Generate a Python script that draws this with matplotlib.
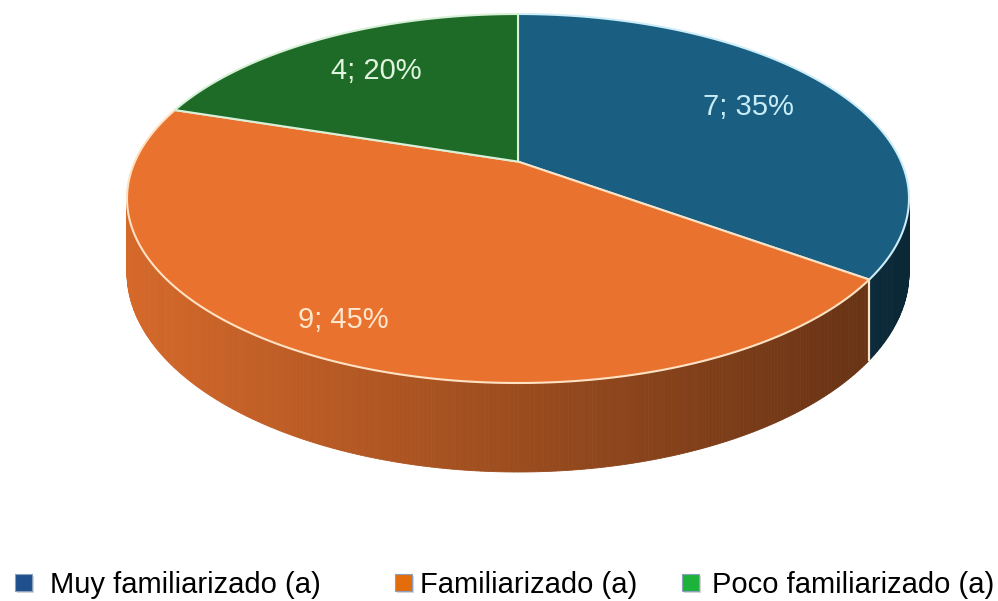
import numpy as np
import matplotlib.pyplot as plt
from matplotlib.patches import Polygon, Rectangle

# datos
categorias = ['Muy familiarizado (a)', 'Familiarizado (a)', 'Poco familiarizado (a)']
valores = [7, 9, 4]
porcentajes = [35, 45, 20]

colores = ['#1a5e81', '#e8722e', '#1e6b27']
colores_borde = ['#cdeef8', '#ffe2c4', '#d8f0d8']
colores_texto = ['#c8ecf6', '#ffe6cc', '#dff3df']
colores_leyenda = ['#1f4f8c', '#e46c0a', '#1db33a']
radio_etiqueta = [0.72, 0.85, 0.7]

plt.rcParams['font.family'] = ['Liberation Sans', 'DejaVu Sans']

fig = plt.figure(figsize=(9.98, 6.01), dpi=100)
ax = fig.add_axes([0, 0, 1, 1])
ax.set_xlim(0, 998)
ax.set_ylim(601, 0)
ax.axis('off')

# geometria del pastel (pixeles)
cx, cy, a, b = 518, 198.5, 391, 184.5
prof = 89
k = 0.2  # perspectiva

umax = 1 / np.sqrt(1 - k**2)
vtop, vbot = 1 / (1 + k), -1 / (1 - k)
vc, vh = (vtop + vbot) / 2, (vtop - vbot) / 2
s_frente = 1 / (1 - k)


def proy(theta_deg, r=1.0):
    t = np.radians(theta_deg)
    X = r * np.cos(t)
    Z = r * np.sin(t)
    s = 1 / (1 + k * Z)
    u = X * s / umax
    v = (Z * s - vc) / vh
    return cx + a * u, cy - b * v, s


def proy_abajo(theta_deg):
    x, y, s = proy(theta_deg)
    return x, y + prof * s / s_frente


total = sum(valores)
acum = np.concatenate([[0], np.cumsum(valores)]) / total * 360
inicio = 90 - acum[:-1]
fin = 90 - acum[1:]

# parte frontal visible del costado
f_hi = -np.degrees(np.arcsin(k))
f_lo = -180 - f_hi


def sombra(x):
    return 0.92 - 0.5 * (x - (cx - a)) / (2 * a)


# costados
for i in range(len(valores)):
    lo, hi = fin[i], inicio[i]
    for sh in (-360, 0, 360):
        lo2, hi2 = max(lo, f_lo + sh), min(hi, f_hi + sh)
        if hi2 <= lo2:
            continue
        ts = np.linspace(hi2, lo2, int((hi2 - lo2) * 2) + 2)
        base = np.array(plt.matplotlib.colors.to_rgb(colores[i]))
        for t1, t2 in zip(ts[:-1], ts[1:]):
            x1, y1, _ = proy(t1)
            x2, y2, _ = proy(t2)
            bx1, by1 = proy_abajo(t1)
            bx2, by2 = proy_abajo(t2)
            c = np.clip(base * sombra((x1 + x2) / 2), 0, 1)
            ax.add_patch(Polygon([(x1, y1), (x2, y2), (bx2, by2), (bx1, by1)],
                                 closed=True, facecolor=c, edgecolor=c, lw=0.6))
        # linea vertical en el borde de la porcion
        for t in (lo, hi):
            if f_lo + sh < t < f_hi + sh:
                x1, y1, _ = proy(t)
                bx1, by1 = proy_abajo(t)
                ax.plot([x1, bx1], [y1, by1], color=colores_borde[i], lw=1.5)

# caras superiores
cx0, cy0, _ = proy(0, 0)
for i in range(len(valores)):
    ts = np.linspace(inicio[i], fin[i], 200)
    pts = [(cx0, cy0)] + [proy(t)[:2] for t in ts]
    ax.add_patch(Polygon(pts, closed=True, facecolor=colores[i],
                         edgecolor=colores_borde[i], lw=1.5, joinstyle='round'))

# etiquetas
for i in range(len(valores)):
    medio = (inicio[i] + fin[i]) / 2
    x, y, _ = proy(medio, radio_etiqueta[i])
    ax.text(x, y, f'{valores[i]}; {porcentajes[i]}%', color=colores_texto[i],
            fontsize=21, ha='center', va='center')

# leyenda
x_marca = [15, 395, 682]
x_texto = [50, 420, 712]
for i in range(len(categorias)):
    ax.add_patch(Rectangle((x_marca[i] + 2, 576), 17, 17, facecolor='#bbbbbb',
                           edgecolor='none', alpha=0.6))
    ax.add_patch(Rectangle((x_marca[i], 574), 17, 17, facecolor=colores_leyenda[i],
                           edgecolor='#8aa0c0', lw=0.8))
    ax.text(x_texto[i], 585, categorias[i], fontsize=21, color='black',
            ha='left', va='center')

plt.savefig('out.png', dpi=100)
